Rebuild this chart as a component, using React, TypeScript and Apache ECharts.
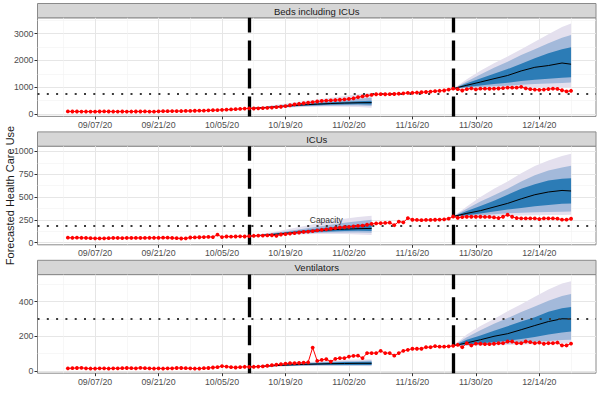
import React, { useEffect, useRef } from 'react';
import * as echarts from 'echarts';

// ---------- data ----------
const panelTitles = ['Beds including ICUs', 'ICUs', 'Ventilators'];
const yAxisTitle = 'Forecasted Health Care Use';

// x values are days since 09/01/20
const xTickDays = [6, 20, 34, 48, 62, 76, 90, 104];
const xTickLabels = ['09/07/20', '09/21/20', '10/05/20', '10/19/20', '11/02/20', '11/16/20', '11/30/20', '12/14/20'];
const xMinorDays = [-1, 13, 27, 41, 55, 69, 83, 97, 111];
const forecastStartDays = [40, 85];
const win1Days = [40, 43, 46, 49, 52, 55, 58, 61, 64, 67];
const win2Days = [85, 88, 91, 94, 97, 100, 103, 106, 109, 111];

const capacities = [750, 180, 300];
const capacityLabelPoint = [57, 242];

const yMajorBeds = [0, 1000, 2000, 3000];
const yMinorBeds = [500, 1500, 2500, 3500];
const yMajorIcu = [0, 250, 500, 750, 1000];
const yMinorIcu = [125, 375, 625, 875];
const yMajorVent = [0, 200, 400];
const yMinorVent = [100, 300, 500];

// observed daily values, 09/01/20 .. 12/21/20
const bedsObserved = [
  100, 98, 97, 95, 96, 94, 92, 98, 100, 97,
  96, 95, 97, 94, 96, 98, 97, 99, 93, 90,
  105, 108, 110, 112, 113, 115, 118, 120, 125, 128,
  130, 140, 145, 150, 160, 165, 175, 185, 195, 205,
  215, 210, 215, 225, 235, 245, 260, 275, 300, 330,
  360, 385, 405, 430, 450, 470, 490, 505, 515, 525,
  535, 550, 565, 590, 630, 660, 690, 715, 740, 745,
  740, 745, 750, 760, 775, 790, 795, 805, 815, 825,
  840, 855, 870, 880, 915, 950, 930, 880, 930, 960,
  920, 950, 950, 945, 950, 955, 970, 990, 985, 985,
  1015, 960, 930, 915, 905, 915, 935, 950, 940, 890,
  845, 870,
];
const icuObserved = [
  53, 52, 53, 52, 50, 48, 46, 45, 46, 48,
  50, 50, 49, 50, 50, 51, 50, 51, 52, 52,
  52, 53, 53, 50, 48, 44, 46, 55, 56, 58,
  60, 62, 60, 86, 60, 66, 64, 66, 68, 66,
  70, 74, 76, 76, 78, 80, 74, 88, 92, 98,
  104, 110, 116, 120, 126, 133, 140, 145, 152, 158,
  165, 168, 172, 178, 182, 186, 195, 205, 210, 212,
  215, 218, 190, 230, 222, 268, 250, 248, 246, 248,
  248, 250, 252, 255, 262, 286, 272, 279, 283, 283,
  283, 283, 281, 281, 276, 269, 283, 305, 283, 269,
  265, 265, 265, 265, 258, 265, 265, 265, 262, 251,
  251, 261,
];
const ventObserved = [
  15, 16, 17, 18, 15, 14, 14, 15, 15, 14,
  15, 15, 16, 17, 16, 15, 18, 16, 15, 14,
  15, 14, 15, 15, 17, 17, 16, 15, 14, 14,
  16, 17, 20, 22, 28, 25, 22, 20, 22, 24,
  23, 24, 25, 26, 30, 33, 36, 39, 42, 45,
  45, 46, 48, 50, 135, 58, 64, 68, 54, 70,
  74, 74, 83, 87, 88, 74, 103, 103, 103, 116,
  103, 103, 88, 103, 116, 122, 128, 128, 128, 137,
  137, 143, 140, 140, 142, 145, 151, 137, 160, 147,
  158, 157, 155, 155, 157, 160, 160, 170, 170, 160,
  160, 170, 166, 160, 164, 157, 160, 160, 164, 147,
  147, 158,
];

// forecast windows (median and three nested intervals)
const bedsW1Median = [215, 240, 275, 310, 345, 372, 395, 412, 424, 430];
const bedsW1DarkLo = [215, 228, 255, 285, 312, 335, 352, 362, 368, 360];
const bedsW1DarkHi = [215, 252, 295, 338, 380, 412, 440, 462, 480, 500];
const bedsW1MidLo = [215, 220, 242, 268, 290, 305, 315, 320, 318, 300];
const bedsW1MidHi = [215, 262, 315, 365, 415, 455, 495, 530, 570, 610];
const bedsW1LightLo = [215, 212, 230, 250, 268, 278, 280, 275, 262, 240];
const bedsW1LightHi = [215, 275, 345, 415, 480, 545, 610, 680, 745, 800];

const bedsW2Median = [950, 1075, 1195, 1320, 1440, 1610, 1745, 1810, 1905, 1860];
const bedsW2DarkLo = [950, 1010, 1070, 1120, 1170, 1230, 1280, 1320, 1360, 1375];
const bedsW2DarkHi = [950, 1150, 1330, 1500, 1680, 1880, 2080, 2270, 2420, 2490];
const bedsW2MidLo = [950, 980, 1010, 1040, 1060, 1090, 1120, 1140, 1160, 1175];
const bedsW2MidHi = [950, 1220, 1480, 1730, 1950, 2200, 2420, 2640, 2850, 2950];
const bedsW2LightLo = [950, 955, 960, 965, 970, 975, 980, 990, 995, 1000];
const bedsW2LightHi = [950, 1300, 1620, 1900, 2150, 2420, 2700, 2980, 3250, 3380];

const icuW1Median = [70, 80, 92, 105, 118, 130, 140, 147, 152, 155];
const icuW1DarkLo = [70, 76, 86, 96, 106, 115, 122, 126, 128, 126];
const icuW1DarkHi = [70, 85, 100, 117, 135, 152, 168, 182, 195, 207];
const icuW1MidLo = [70, 73, 82, 90, 98, 104, 109, 111, 110, 107];
const icuW1MidHi = [70, 90, 110, 130, 152, 174, 196, 216, 234, 250];
const icuW1LightLo = [70, 70, 77, 84, 90, 93, 94, 93, 89, 82];
const icuW1LightHi = [70, 95, 122, 150, 180, 210, 238, 262, 280, 293];

const icuW2Median = [286, 320, 350, 390, 430, 480, 525, 555, 572, 566];
const icuW2DarkLo = [286, 300, 318, 340, 362, 380, 398, 412, 425, 430];
const icuW2DarkHi = [286, 345, 400, 460, 525, 590, 640, 680, 700, 705];
const icuW2MidLo = [286, 292, 300, 310, 322, 328, 333, 336, 339, 340];
const icuW2MidHi = [286, 370, 450, 520, 590, 670, 740, 790, 825, 842];
const icuW2LightLo = [286, 288, 290, 292, 295, 298, 300, 302, 303, 304];
const icuW2LightHi = [286, 395, 500, 590, 670, 760, 840, 900, 950, 974];

const ventW1Median = [23, 27, 31, 35, 38, 40, 42, 43, 44, 44];
const ventW1DarkLo = [23, 25, 28, 31, 33, 34, 35, 35, 35, 35];
const ventW1DarkHi = [23, 29, 34, 39, 43, 46, 49, 51, 52, 53];
const ventW1MidLo = [23, 24, 27, 29, 31, 32, 32, 32, 32, 31];
const ventW1MidHi = [23, 30, 36, 41, 46, 50, 53, 56, 58, 60];
const ventW1LightLo = [23, 23, 25, 27, 28, 29, 29, 29, 28, 27];
const ventW1LightHi = [23, 31, 38, 44, 50, 55, 59, 63, 66, 68];

const ventW2Median = [145, 162, 180, 200, 215, 238, 262, 285, 301, 300];
const ventW2DarkLo = [145, 152, 160, 166, 174, 185, 196, 210, 222, 228];
const ventW2DarkHi = [145, 180, 205, 232, 258, 285, 310, 342, 362, 369];
const ventW2MidLo = [145, 148, 150, 154, 158, 163, 168, 173, 178, 180];
const ventW2MidHi = [145, 195, 235, 272, 305, 340, 372, 405, 432, 444];
const ventW2LightLo = [145, 146, 147, 148, 150, 152, 154, 156, 158, 160];
const ventW2LightHi = [145, 210, 260, 300, 345, 385, 428, 470, 505, 518];

// ---------- layout / style ----------
const FONT = '"Liberation Sans", Arial, Helvetica, sans-serif';
const X_MIN = -6.7;
const X_MAX = 116.5;
const GRID_LEFT = 37.5;
const GRID_WIDTH = 558.5;
const STRIP_TOPS = [3.5, 131.9, 260.3];
const STRIP_H = 14.3;
const GRID_H = 98.6;
const Y_RANGES = [[-85, 3590], [-25, 1058], [-13, 556]];
const BAND_COLORS: Record<string, string> = { light: '#E4E0EE', mid: '#A3B9DA', dark: '#2C7CB6' };

type Win = {
  days: number[]; median: number[];
  darkLo: number[]; darkHi: number[];
  midLo: number[]; midHi: number[];
  lightLo: number[]; lightHi: number[];
};

const panels = [
  {
    observed: bedsObserved, yMajor: yMajorBeds, yMinor: yMinorBeds,
    wins: [
      { days: win1Days, median: bedsW1Median, darkLo: bedsW1DarkLo, darkHi: bedsW1DarkHi, midLo: bedsW1MidLo, midHi: bedsW1MidHi, lightLo: bedsW1LightLo, lightHi: bedsW1LightHi },
      { days: win2Days, median: bedsW2Median, darkLo: bedsW2DarkLo, darkHi: bedsW2DarkHi, midLo: bedsW2MidLo, midHi: bedsW2MidHi, lightLo: bedsW2LightLo, lightHi: bedsW2LightHi },
    ] as Win[],
  },
  {
    observed: icuObserved, yMajor: yMajorIcu, yMinor: yMinorIcu,
    wins: [
      { days: win1Days, median: icuW1Median, darkLo: icuW1DarkLo, darkHi: icuW1DarkHi, midLo: icuW1MidLo, midHi: icuW1MidHi, lightLo: icuW1LightLo, lightHi: icuW1LightHi },
      { days: win2Days, median: icuW2Median, darkLo: icuW2DarkLo, darkHi: icuW2DarkHi, midLo: icuW2MidLo, midHi: icuW2MidHi, lightLo: icuW2LightLo, lightHi: icuW2LightHi },
    ] as Win[],
  },
  {
    observed: ventObserved, yMajor: yMajorVent, yMinor: yMinorVent,
    wins: [
      { days: win1Days, median: ventW1Median, darkLo: ventW1DarkLo, darkHi: ventW1DarkHi, midLo: ventW1MidLo, midHi: ventW1MidHi, lightLo: ventW1LightLo, lightHi: ventW1LightHi },
      { days: win2Days, median: ventW2Median, darkLo: ventW2DarkLo, darkHi: ventW2DarkHi, midLo: ventW2MidLo, midHi: ventW2MidHi, lightLo: ventW2LightLo, lightHi: ventW2LightHi },
    ] as Win[],
  },
];

// band polygon drawn through the axes' own coordinate conversion
function bandSeries(rows: number[][], color: string, xi: number, yi: number, z: number) {
  return {
    type: 'custom', xAxisIndex: xi, yAxisIndex: yi, silent: true,
    data: rows,
    encode: { x: 0, y: [1, 2] },
    clip: true,
    renderItem: (params: any, api: any) => {
      if (params.dataIndex !== 0) return null;
      const upper = rows.map((r) => api.coord([r[0], r[2]]));
      const lower = rows.map((r) => api.coord([r[0], r[1]])).reverse();
      return {
        type: 'polygon',
        shape: { points: upper.concat(lower) },
        style: { fill: color, stroke: 'none' },
        silent: true,
      };
    },
    z,
  };
}

function buildOption() {
  const grid: any[] = [];
  const xAxis: any[] = [];
  const yAxis: any[] = [];
  const series: any[] = [];
  const graphic: any[] = [];

  panels.forEach((p, i) => {
    const top = STRIP_TOPS[i] + STRIP_H;
    grid.push({
      left: GRID_LEFT, width: GRID_WIDTH, top, height: GRID_H,
      containLabel: false, outerBoundsMode: 'none',
      show: true, borderColor: '#8a8a8a', borderWidth: 1, backgroundColor: '#ffffff',
    });
    xAxis.push({
      type: 'value', gridIndex: i, min: X_MIN, max: X_MAX, position: 'bottom',
      axisLine: { show: false, onZero: false },
      axisTick: { show: true, length: 3, lineStyle: { color: '#333333', width: 1 }, customValues: xTickDays },
      axisLabel: {
        customValues: xTickDays, fontSize: 8.8, color: '#4D4D4D', margin: 4, fontFamily: FONT,
        hideOverlap: false,
        formatter: (v: number) => xTickLabels[xTickDays.indexOf(v)] ?? '',
      },
      splitLine: { show: true, lineStyle: { color: '#E6E6E6', width: 1 } },
    });
    xAxis.push({
      type: 'value', gridIndex: i, min: X_MIN, max: X_MAX, position: 'top',
      axisLine: { show: false, onZero: false },
      axisTick: { show: false, customValues: xMinorDays },
      axisLabel: { show: false },
      splitLine: { show: true, lineStyle: { color: '#F2F2F2', width: 0.6 } },
    });
    const [yMin, yMax] = Y_RANGES[i];
    yAxis.push({
      type: 'value', gridIndex: i, min: yMin, max: yMax, position: 'left',
      axisLine: { show: false, onZero: false },
      axisTick: { show: true, length: 3, lineStyle: { color: '#333333', width: 1 }, customValues: p.yMajor },
      axisLabel: {
        customValues: p.yMajor, fontSize: 8.8, color: '#4D4D4D', margin: 4, fontFamily: FONT,
        formatter: (v: number) => String(v),
      },
      splitLine: { show: true, lineStyle: { color: '#E6E6E6', width: 1 } },
    });
    yAxis.push({
      type: 'value', gridIndex: i, min: yMin, max: yMax, position: 'right',
      axisLine: { show: false, onZero: false },
      axisTick: { show: false, customValues: p.yMinor },
      axisLabel: { show: false },
      splitLine: { show: true, lineStyle: { color: '#F2F2F2', width: 0.6 } },
    });

    const xi = i * 2;
    const yi = i * 2;

    p.wins.forEach((w) => {
      const levels: [string, number[], number[]][] = [
        ['light', w.lightLo, w.lightHi],
        ['mid', w.midLo, w.midHi],
        ['dark', w.darkLo, w.darkHi],
      ];
      levels.forEach(([lvl, lo, hi], li) => {
        const rows = w.days.map((d, k) => [d, lo[k], hi[k]]);
        series.push(bandSeries(rows, BAND_COLORS[lvl], xi, yi, 2 + li * 0.1));
      });
      series.push({
        type: 'line', xAxisIndex: xi, yAxisIndex: yi, silent: true,
        data: w.days.map((d, k) => [d, w.median[k]]),
        symbol: 'none', lineStyle: { color: '#000000', width: 1 }, z: 3,
      });
    });

    series.push({
      type: 'line', xAxisIndex: xi, yAxisIndex: yi, silent: true, data: [], z: 4,
      markLine: {
        silent: true, symbol: ['none', 'none'], label: { show: false },
        data: [
          { yAxis: capacities[i], lineStyle: { type: [2, 7.3], width: 2, color: '#3A3A3A' } },
          ...forecastStartDays.map((d) => ({ xAxis: d, lineStyle: { type: [20, 8], width: 3.3, color: '#000000' } })),
        ],
      },
      ...(i === 1
        ? {
            markPoint: {
              silent: true, symbol: 'circle', symbolSize: 0,
              label: { show: true, position: 'inside', formatter: 'Capacity', fontSize: 8.5, color: '#333333', fontFamily: FONT },
              data: [{ coord: capacityLabelPoint }],
            },
          }
        : {}),
    });

    series.push({
      type: 'line', xAxisIndex: xi, yAxisIndex: yi, silent: true,
      data: p.observed.map((v, k) => [k, v]),
      symbol: 'circle', symbolSize: 3.8, showSymbol: true,
      itemStyle: { color: '#FF0000' },
      lineStyle: { color: '#FF0000', width: 1 }, z: 5,
    });

    graphic.push({
      type: 'rect', silent: true,
      shape: { x: GRID_LEFT, y: STRIP_TOPS[i], width: GRID_WIDTH, height: STRIP_H },
      style: { fill: '#D6D6D6', stroke: '#8a8a8a', lineWidth: 1 },
    });
    graphic.push({
      type: 'text', silent: true,
      x: GRID_LEFT + GRID_WIDTH / 2, y: STRIP_TOPS[i] + STRIP_H / 2 + 0.5,
      style: {
        text: panelTitles[i], align: 'center', verticalAlign: 'middle',
        fontSize: 9.5, fill: '#1A1A1A', fontFamily: FONT,
      },
    });
  });

  graphic.push({
    type: 'text', silent: true,
    x: 10, y: STRIP_TOPS[1] + STRIP_H + GRID_H / 2,
    rotation: Math.PI / 2,
    style: {
      text: yAxisTitle, align: 'center', verticalAlign: 'middle',
      fontSize: 11, fill: '#1A1A1A', fontFamily: FONT,
    },
  });

  return {
    animation: false,
    backgroundColor: '#ffffff',
    textStyle: { fontFamily: FONT },
    grid, xAxis, yAxis, series, graphic,
  };
}

export default function App() {
  const ref = useRef<HTMLDivElement>(null);
  useEffect(() => {
    if (!ref.current) return;
    const chart = echarts.init(ref.current, undefined, { renderer: 'svg' });
    chart.setOption(buildOption() as any);
    return () => chart.dispose();
  }, []);
  return (
    <div
      ref={ref}
      style={{ position: 'fixed', left: 0, top: 0, width: 600, height: 400, background: '#fff' }}
    />
  );
}
